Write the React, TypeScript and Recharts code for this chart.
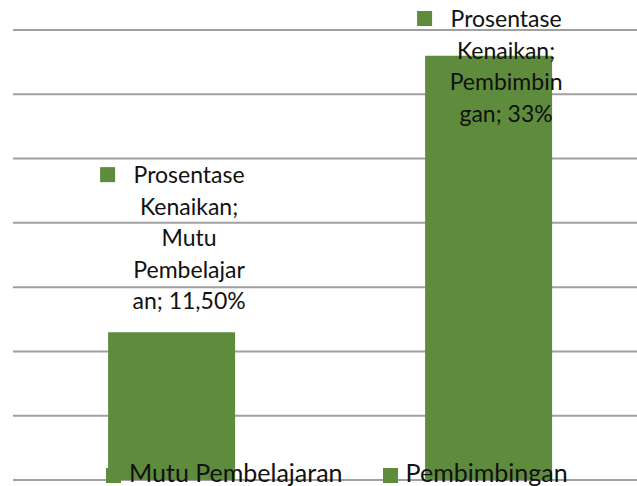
import React from "react";
import { BarChart, Bar, XAxis, YAxis, CartesianGrid, Legend, LabelList } from "recharts";

const categories = ["Mutu Pembelajaran", "Pembimbingan"];
const values = [11.5, 33];
const seriesName = "Prosentase Kenaikan";
// wrapped data label text, as it appears on the chart
const labelLines = [
  ["Prosentase", "Kenaikan;", "Mutu", "Pembelajar", "an; 11,50%"],
  ["Prosentase", "Kenaikan;", "Pembimbin", "gan; 33%"],
];
const yTicks = [0, 5, 10, 15, 20, 25, 30, 35];

const GREEN = "#5f8b3d";
const FONT = "Lato, 'Noto Sans', sans-serif";
const FONT_SIZE = 23;
const LINE_H = 31.5;

const data = categories.map((name, i) => ({ name, value: values[i] }));

function DataLabel(props: any) {
  const { x, y, width, index } = props;
  const lines = labelLines[index] || [];
  const cx = x + width / 2 + 17.5;
  let first = y - 23 - (lines.length - 1) * LINE_H;
  if (first < 27) first = 27; // keep inside chart area
  return (
    <g>
      <rect x={cx - 89} y={first - 16} width={15} height={15} fill={GREEN} />
      {lines.map((t, i) => (
        <text
          key={i}
          x={cx}
          y={first + i * LINE_H}
          textAnchor="middle"
          fontFamily={FONT}
          fontSize={FONT_SIZE}
          fill="#111"
        >
          {t}
        </text>
      ))}
    </g>
  );
}

function LegendContent() {
  return (
    <div style={{ display: "flex", fontFamily: FONT, fontSize: 25, lineHeight: "30px", color: "#111" }}>
      {categories.map((c, i) => (
        <div key={c} style={{ display: "flex", alignItems: "flex-start", marginRight: i === 0 ? 40 : 0 }}>
          <span style={{ width: 15, height: 15, background: GREEN, marginTop: 11, marginRight: 8, display: "inline-block" }} />
          <span style={{ whiteSpace: "nowrap" }}>{c}</span>
        </div>
      ))}
    </div>
  );
}

export default function App() {
  return (
    <div style={{ position: "fixed", left: 0, top: 0, width: 637, height: 486, overflow: "hidden", background: "#fff" }}>
      <BarChart
        width={660}
        height={486}
        data={data}
        margin={{ top: 30, right: 13, bottom: 6, left: 13 }}
        barCategoryGap="30%"
      >
        <CartesianGrid vertical={false} stroke="#a0a0a0" strokeWidth={2} />
        <XAxis dataKey="name" hide />
        <YAxis hide domain={[0, 35]} ticks={yTicks} />
        <Bar dataKey="value" name={seriesName} fill={GREEN} isAnimationActive={false}>
          <LabelList dataKey="value" content={DataLabel} />
        </Bar>
        <Legend
          layout="horizontal"
          verticalAlign="middle"
          align="center"
          content={LegendContent}
          wrapperStyle={{ left: 106, top: 457, width: "auto" }}
        />
      </BarChart>
    </div>
  );
}
